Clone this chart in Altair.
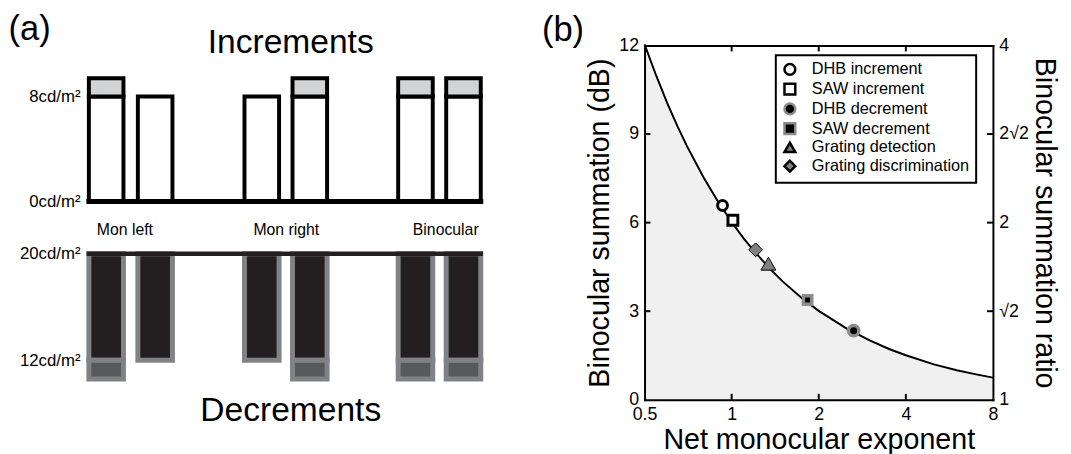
import altair as alt
import pandas as pd

FONT = "Liberation Sans"

# ---------------- panel (a) values ----------------
bar_left = [0.0, 5.1, 16.2, 21.2, 32.2, 37.2]
bar_width = 3.6
bar_tested = [True, False, False, True, True, True]
inc_background = 0.0
inc_pedestal = 8.0
inc_test = 9.4
dec_background = 20.0
dec_pedestal = 12.0
dec_test = 10.6
group_names = ["Mon left", "Mon right", "Binocular"]
group_tick_x = [3.7, 20.5, 37.1]
inc_tick_values = [0, 8]
dec_tick_values = [12, 20]

# ---------------- panel (b) values ----------------
curve_exponent = [0.5, 0.55, 0.6, 0.65, 0.7, 0.8, 0.9, 1.0, 1.1, 1.2, 1.35, 1.5,
                  1.75, 2.0, 2.5, 3.0, 3.5, 4.0, 5.0, 6.0, 7.0, 8.0]
curve_db = [12.04, 10.95, 10.03, 9.26, 8.60, 7.53, 6.69, 6.02, 5.47, 5.02, 4.46, 4.01,
            3.44, 3.01, 2.41, 2.01, 1.72, 1.51, 1.20, 1.00, 0.86, 0.75]
series = ["DHB increment", "SAW increment", "DHB decrement", "SAW decrement",
          "Grating detection", "Grating discrimination"]
series_exponent = [0.93, 1.01, 2.64, 1.83, 1.34, 1.21]
series_db = [6.58, 6.08, 2.34, 3.38, 4.61, 5.08]
x_tick_values = [0.5, 1, 2, 4, 8]
db_tick_values = [0, 3, 6, 9, 12]
ratio_tick_labels = ["1", "√2", "2", "2√2", "4"]


def lookup_expr(values, labels):
    parts = [f"abs(datum.value - {v}) < 1e-6 ? '{t}'" for v, t in zip(values, labels)]
    return " : ".join(parts) + " : ''"


# ---------------- panel (a) ----------------
bar_right = [l + bar_width for l in bar_left]
tested_left = [l for l, t in zip(bar_left, bar_tested) if t]
tested_right = [r for r, t in zip(bar_right, bar_tested) if t]

inc_ped_df = pd.DataFrame({"left": bar_left, "right": bar_right,
                           "lo": inc_background, "hi": inc_pedestal})
inc_test_df = pd.DataFrame({"left": tested_left, "right": tested_right,
                            "lo": inc_pedestal, "hi": inc_test})
inc_base_df = pd.DataFrame({"left": [min(bar_left)], "right": [max(bar_right)],
                            "level": [inc_background]})
dec_ped_df = pd.DataFrame({"left": bar_left, "right": bar_right,
                           "lo": dec_pedestal, "hi": dec_background})
dec_test_df = pd.DataFrame({"left": tested_left, "right": tested_right,
                            "lo": dec_test, "hi": dec_pedestal})
dec_top_df = pd.DataFrame({"left": [min(bar_left)], "right": [max(bar_right)],
                           "level": [dec_background]})

xa = alt.Scale(domain=[min(bar_left) - 0.2, max(bar_right) + 0.2], nice=False, zero=False)
inc_ys = alt.Scale(domain=[0, 11.9], nice=False, zero=False)
dec_ys = alt.Scale(domain=[10, 20], nice=False, zero=False)

inc_x_axis = alt.Axis(values=group_tick_x, labelExpr=lookup_expr(group_tick_x, group_names),
                      domain=False, ticks=False, grid=False, labelFontSize=16,
                      labelPadding=21, title=None, labelFlush=False, labelAngle=0,
                      labelOverlap=False, orient="bottom")
inc_y_axis = alt.Axis(values=inc_tick_values, labelExpr="datum.value + 'cd/m²'",
                      domain=False, ticks=False, grid=False, labelFontSize=17,
                      labelPadding=7, title=None, orient="left")
dec_y_axis = alt.Axis(values=dec_tick_values, labelExpr="datum.value + 'cd/m²'",
                      domain=False, ticks=False, grid=False, labelFontSize=17,
                      labelPadding=7, title=None, orient="left")

inc_ped = alt.Chart(inc_ped_df).mark_rect(fill="white", stroke="black", strokeWidth=4).encode(
    x=alt.X("left:Q", scale=xa, axis=inc_x_axis), x2="right:Q",
    y=alt.Y("lo:Q", scale=inc_ys, axis=inc_y_axis), y2="hi:Q")
inc_tst = alt.Chart(inc_test_df).mark_rect(fill="#d1d3d4", stroke="black", strokeWidth=4).encode(
    x=alt.X("left:Q", scale=xa, axis=None), x2="right:Q",
    y=alt.Y("lo:Q", scale=inc_ys, axis=None), y2="hi:Q")
inc_base = alt.Chart(inc_base_df).mark_rule(color="black", strokeWidth=5, strokeCap="square").encode(
    x=alt.X("left:Q", scale=xa, axis=None), x2="right:Q",
    y=alt.Y("level:Q", scale=inc_ys, axis=None))
inc = alt.layer(inc_ped, inc_tst, inc_base).resolve_axis(
    x="independent", y="independent").properties(
    width=401, height=158,
    title=alt.Title("Increments", fontSize=34, anchor="middle", frame="group",
                    offset=-15, dx=6))

dec_ped = alt.Chart(dec_ped_df).mark_rect(fill="#231f20", stroke="#808285", strokeWidth=5).encode(
    x=alt.X("left:Q", scale=xa, axis=None), x2="right:Q",
    y=alt.Y("lo:Q", scale=dec_ys, axis=dec_y_axis), y2="hi:Q")
dec_tst = alt.Chart(dec_test_df).mark_rect(fill="#58595b", stroke="#808285", strokeWidth=5).encode(
    x=alt.X("left:Q", scale=xa, axis=None), x2="right:Q",
    y=alt.Y("lo:Q", scale=dec_ys, axis=None), y2="hi:Q")
dec_top = alt.Chart(dec_top_df).mark_rule(color="#231f20", strokeWidth=4.5, strokeCap="square").encode(
    x=alt.X("left:Q", scale=xa, axis=None), x2="right:Q",
    y=alt.Y("level:Q", scale=dec_ys, axis=None))
dec = alt.layer(dec_ped, dec_tst, dec_top).resolve_axis(
    x="independent", y="independent").properties(
    width=401, height=135,
    title=alt.Title("Decrements", orient="bottom", fontSize=34, anchor="middle",
                    frame="group", offset=7, dx=6))

panel_a = alt.vconcat(inc, dec, spacing=53, bounds="flush",
                      title=alt.Title("(a)", anchor="start", fontSize=35, dx=-11, offset=-20))

# ---------------- panel (b) ----------------
W, H = 353, 359
curve_df = pd.DataFrame({"exponent": curve_exponent, "db": curve_db})
pts_df = pd.DataFrame({"series": series, "exponent": series_exponent, "db": series_db})

xb = alt.Scale(type="log", base=2, domain=[0.5, 8], nice=False)
yb = alt.Scale(domain=[0, 12], nice=False, zero=False)

dom = dict(domain=True, domainColor="black", domainWidth=2, domainCap="square", zindex=1,
           ticks=False, grid=False)
bottom_axis = alt.Axis(values=x_tick_values, labelExpr="'' + datum.value", orient="bottom",
                       labelFontSize=18, labelPadding=6, labelFlush=False, labelOverlap=False,
                       title="Net monocular exponent", titleFontSize=29, titlePadding=2,
                       titleFontWeight="normal", **dom)
top_axis = alt.Axis(values=x_tick_values, orient="top", labels=False, title=None, **dom)
left_axis = alt.Axis(values=db_tick_values, orient="left", format="d",
                     labelFontSize=18, labelPadding=6, labelFlush=False, labelOverlap=False,
                     title="Binocular summation (dB)", titleFontSize=29, titlePadding=4,
                     titleFontWeight="normal", **dom)
right_axis = alt.Axis(values=db_tick_values, orient="right",
                      labelExpr=lookup_expr(db_tick_values, ratio_tick_labels),
                      labelFontSize=18, labelPadding=6, labelFlush=False, labelOverlap=False,
                      title="Binocular summation ratio", titleFontSize=29, titlePadding=1,
                      titleAngle=90, titleFontWeight="normal", **dom)

area = alt.Chart(curve_df).mark_area(color="#f0f0f0").encode(
    x=alt.X("exponent:Q", scale=xb, axis=bottom_axis),
    y=alt.Y("db:Q", scale=yb, axis=left_axis))
line = alt.Chart(curve_df).mark_line(color="black", strokeWidth=2).encode(
    x=alt.X("exponent:Q", scale=xb, axis=top_axis),
    y=alt.Y("db:Q", scale=yb, axis=right_axis))

xt_df = pd.DataFrame({"exponent": x_tick_values[1:-1]})
yt_df = pd.DataFrame({"db": db_tick_values[1:-1]})
TL = 6
bot_ticks = alt.Chart(xt_df).mark_rule(color="black", strokeWidth=2).encode(
    x=alt.X("exponent:Q", scale=xb, axis=None), y=alt.value(H), y2=alt.value(H - TL))
top_ticks = alt.Chart(xt_df).mark_rule(color="black", strokeWidth=2).encode(
    x=alt.X("exponent:Q", scale=xb, axis=None), y=alt.value(0), y2=alt.value(TL))
left_ticks = alt.Chart(yt_df).mark_rule(color="black", strokeWidth=2).encode(
    y=alt.Y("db:Q", scale=yb, axis=None), x=alt.value(0), x2=alt.value(TL))
right_ticks = alt.Chart(yt_df).mark_rule(color="black", strokeWidth=2).encode(
    y=alt.Y("db:Q", scale=yb, axis=None), x=alt.value(W), x2=alt.value(W - TL))

shapes = ["circle", "square", "circle", "square", "triangle-up", "diamond"]
fills = ["white", "white", "black", "black", "#808080", "#808080"]
strokes = ["black", "black", "#8c8c8c", "#8c8c8c", "black", "black"]
leg = alt.Legend(title=None, orient="none", legendX=133, legendY=10)

sw = (alt.when(alt.FieldOneOfPredicate(field="series", oneOf=series[:2])).then(alt.value(3.0))
      .when(alt.FieldOneOfPredicate(field="series", oneOf=series[2:4])).then(alt.value(3.5))
      .otherwise(alt.value(1.0)))
sz = (alt.when(alt.FieldEqualPredicate(field="series", equal=series[4])).then(alt.value(230))
      .when(alt.FieldEqualPredicate(field="series", equal=series[5])).then(alt.value(196))
      .when(alt.FieldEqualPredicate(field="series", equal=series[3])).then(alt.value(72))
      .when(alt.FieldEqualPredicate(field="series", equal=series[2])).then(alt.value(110))
      .otherwise(alt.value(100)))

pts = alt.Chart(pts_df).mark_point(filled=True, opacity=1).encode(
    x=alt.X("exponent:Q", scale=xb, axis=None),
    y=alt.Y("db:Q", scale=yb, axis=None),
    shape=alt.Shape("series:N", scale=alt.Scale(domain=series, range=shapes), legend=leg),
    fill=alt.Fill("series:N", scale=alt.Scale(domain=series, range=fills), legend=leg),
    stroke=alt.Stroke("series:N", scale=alt.Scale(domain=series, range=strokes), legend=leg),
    strokeWidth=sw, size=sz)

panel_b = alt.layer(area, line, bot_ticks, top_ticks, left_ticks, right_ticks, pts).resolve_axis(
    x="independent", y="independent").properties(
    width=W, height=H,
    title=alt.Title("(b)", anchor="start", fontSize=35, dx=-45, offset=-11))

chart = alt.hconcat(panel_a, panel_b, spacing=57).resolve_legend(
    shape="independent", fill="independent", stroke="independent").properties(
    padding={"left": 0, "top": 1, "right": 5, "bottom": 0}).configure(
    font=FONT).configure_view(stroke=None).configure_title(
    color="black", fontWeight="normal", font=FONT).configure_axis(
    labelColor="black", titleColor="black", labelFont=FONT, titleFont=FONT).configure_legend(
    strokeColor="black", strokeWidth=2, fillColor="white", padding=6, labelFontSize=16.5,
    labelLimit=300, symbolSize=120, symbolStrokeWidth=2.5, rowPadding=-2, labelOffset=14,
    labelFont=FONT, labelColor="black", cornerRadius=0)

chart.save("out.html", embed_options={"renderer": "svg", "actions": False})
